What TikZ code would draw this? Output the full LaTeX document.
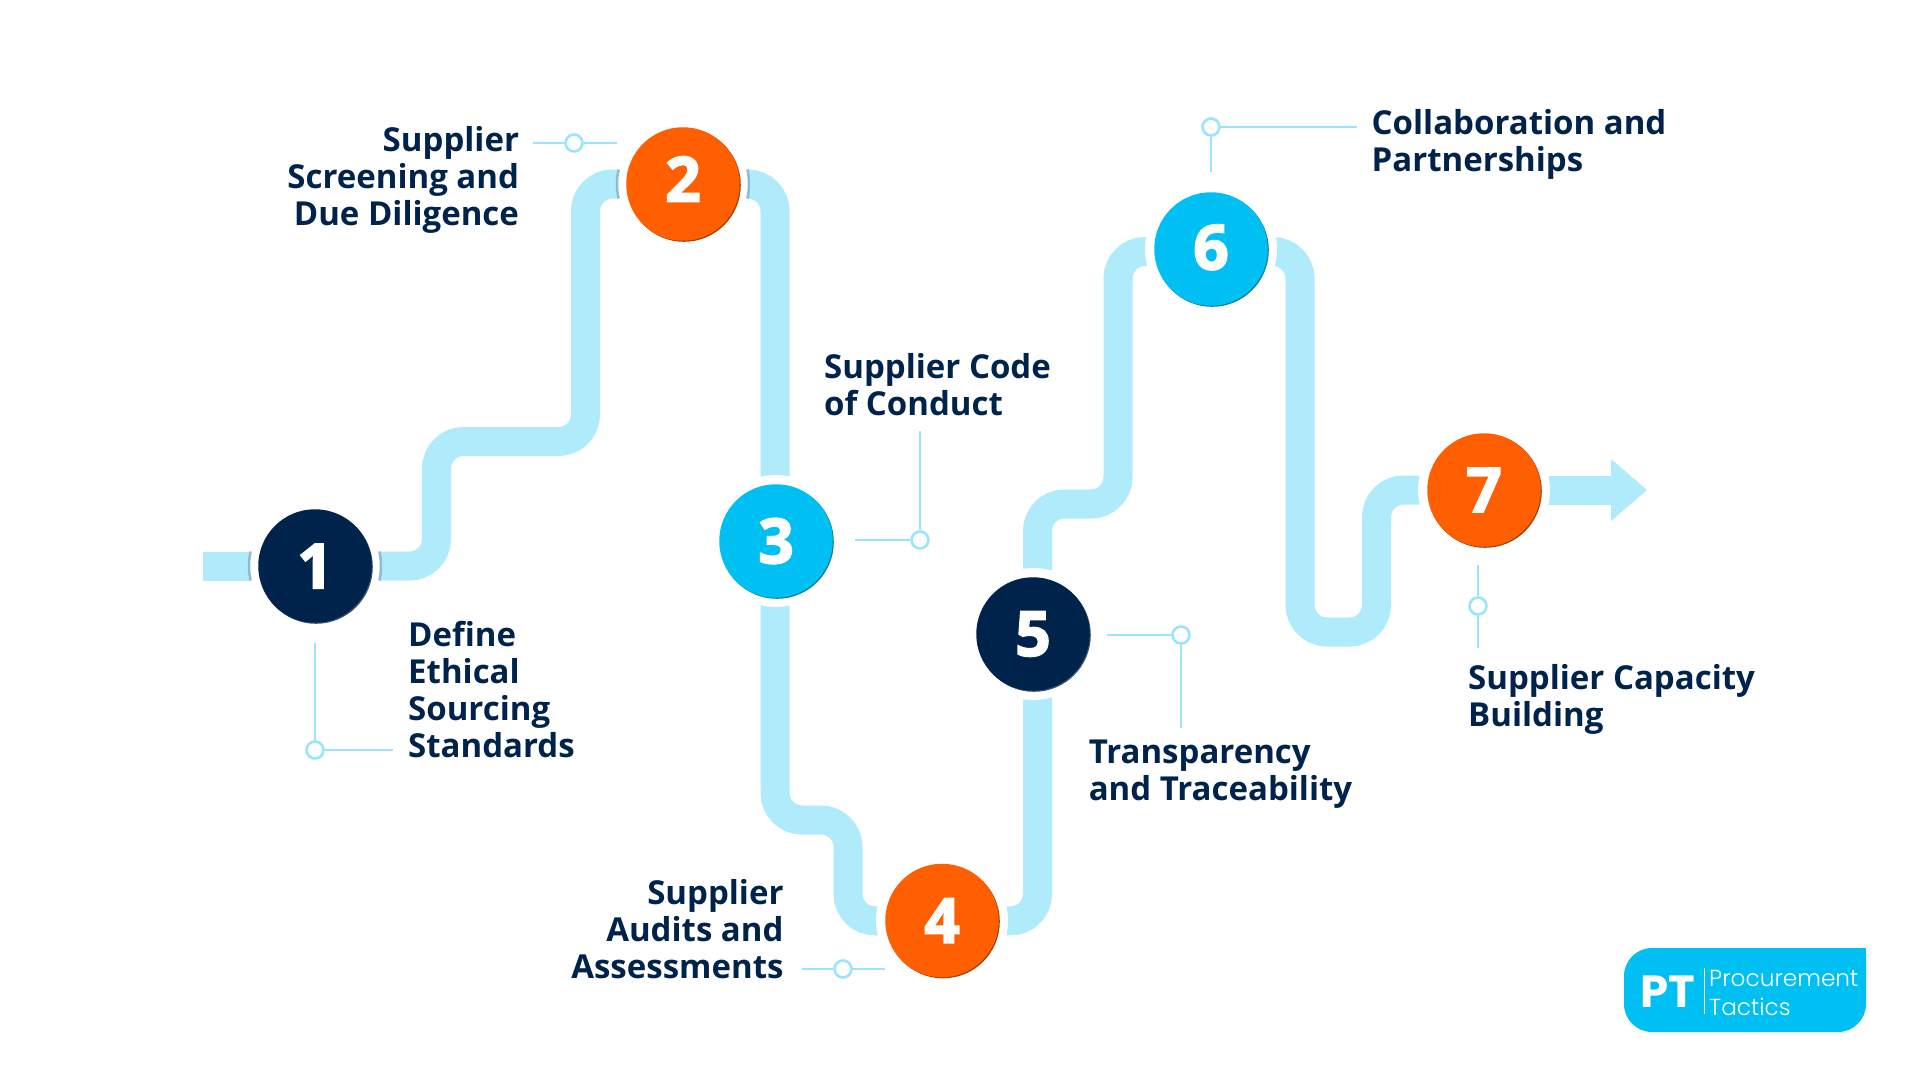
\documentclass[tikz,border=0pt]{standalone}
\usepackage{fontspec}
\setmainfont{Open Sans}
\newfontfamily\digitfont[BoldFeatures={FakeBold=2.8}]{Open Sans}
\newfontfamily\logobold{Poppins}
\newfontfamily\logolight[UprightFont={* Light}]{Poppins}
\usetikzlibrary{backgrounds}
\definecolor{pipecol}{HTML}{B0EBFB}
\definecolor{leadcol}{HTML}{9BE4FC}
\definecolor{navy}{HTML}{00234B}
\definecolor{orangec}{HTML}{FF5F00}
\definecolor{cyanc}{HTML}{00C0F3}
\definecolor{shorange}{HTML}{A5400A}
\definecolor{shcyan}{HTML}{0A7FA3}
\definecolor{shnavy}{HTML}{3A5470}
\definecolor{capcol}{HTML}{8FBDCB}
\tikzset{
  x=1pt,y=-1pt,
  stopnode/.style={circle,inner sep=0pt,minimum size=113.5pt,text=white,font=\digitfont\bfseries\fontsize{62}{62}\selectfont},
  pipe/.style={draw=pipecol,line width=29pt,rounded corners=27pt,line cap=butt},
  leader/.style={draw=leadcol,line width=2.6pt},
  ring/.style={circle,draw=leadcol,fill=white,line width=2.6pt,inner sep=0pt,minimum size=17pt},
  lab/.style={text=navy,inner sep=0pt,font=\bfseries\fontsize{33}{37}\selectfont},
  labl/.style={lab,anchor=north west,align=left},
  labr/.style={lab,anchor=north east,align=right},
  pipecap/.style={draw=capcol,line width=2.5pt}
}
\newcommand{\stopat}[6]{%
  \fill[white] (#2,#3) circle[radius=66];
  \fill[#5] (#2+1,#3+1) circle[radius=56.8];
  \node[stopnode,fill=#4] (#1) at (#2,#3) {#6};
}
\begin{document}
\begin{tikzpicture}
\useasboundingbox (0,0) rectangle (1920,1080);
\begin{pgfonlayer}{background}
\fill[white] (0,0) rectangle (1920,1080);
\end{pgfonlayer}
% stops
\stopat{n1}{315}{566}{navy}{shnavy}{1}
\stopat{n2}{683}{184}{orangec}{shorange}{\raisebox{10pt}{2}}
\stopat{n3}{776}{541}{cyanc}{shcyan}{3}
\stopat{n4}{942}{920.5}{orangec}{shorange}{4}
\stopat{n5}{1033}{634}{navy}{shnavy}{5}
\stopat{n6}{1211}{249}{cyanc}{shcyan}{\raisebox{4pt}{6}}
\stopat{n7}{1484}{490}{orangec}{shorange}{7}
% end caps beside stops 1 and 2
\draw[pipecap] (n1.center) ++(167.3:66) arc[start angle=167.3,end angle=192.7,radius=66];
\draw[pipecap] (n1.center) ++(-12.7:66) arc[start angle=-12.7,end angle=12.7,radius=66];
\draw[pipecap] (n2.center) ++(167.3:66) arc[start angle=167.3,end angle=192.7,radius=66];
\draw[pipecap] (n2.center) ++(-12.7:66) arc[start angle=-12.7,end angle=12.7,radius=66];
% bends
\coordinate (s0) at (203,566);
\coordinate (a1) at (436.5,566);
\coordinate (a2) at (436.5,441.5);
\coordinate (a3) at (585.5,441.5);
\coordinate (a4) at (585.5,184);
\coordinate (b1) at (775,184);
\coordinate (c1) at (775,820);
\coordinate (c2) at (848,820);
\coordinate (c3) at (848,921);
\coordinate (d1) at (1037.5,921);
\coordinate (e1) at (1037.5,504);
\coordinate (e2) at (1118,504);
\coordinate (e3) at (1118,251.5);
\coordinate (f1) at (1300,251.5);
\coordinate (f2) at (1300,632);
\coordinate (f3) at (1376.5,632);
\coordinate (f4) at (1376.5,490);
\coordinate (g1) at (1611,490);
\coordinate (g2) at (1611,459);
\coordinate (g3) at (1647,490);
\coordinate (g4) at (1611,521);
\begin{pgfonlayer}{background}
  \draw[pipe] (s0) -- (n1.center);
  \draw[pipe] (n1.center) -- (a1) -- (a2) -- (a3) -- (a4) -- (n2.center);
  \draw[pipe] (n2.center) -- (b1) -- (b1 |- n3.center);
  \draw[pipe] (b1 |- n3.center) -- (c1) -- (c2) -- (c3) -- (n4.center);
  \draw[pipe] (n4.center) -- (d1) -- (d1 |- n5.center);
  \draw[pipe] (d1 |- n5.center) -- (e1) -- (e2) -- (e3) -- (n6.center |- e3);
  \draw[pipe] (n6.center |- e3) -- (f1) -- (f2) -- (f3) -- (f4) -- (n7.center);
  \draw[pipe] (n7.center) -- (g1);
  \fill[pipecol] (g2) -- (g3) -- (g4) -- cycle;
\end{pgfonlayer}
% leaders
\node[ring] (r1) at (315,750) {};
\node[ring] (r2) at (574,143) {};
\node[ring] (r3) at (920,540) {};
\node[ring] (r4) at (843,969) {};
\node[ring] (r5) at (1181,635) {};
\node[ring] (r6) at (1211,127) {};
\node[ring] (r7) at (1478,606) {};
\coordinate (l1a) at (315,643); \coordinate (l1b) at (393,750);
\coordinate (l2a) at (533,143); \coordinate (l2b) at (617,143);
\coordinate (l3a) at (920,431); \coordinate (l3b) at (855,540);
\coordinate (l4a) at (802,969); \coordinate (l4b) at (885,969);
\coordinate (l5a) at (1107,635); \coordinate (l5b) at (1181,728);
\coordinate (l6a) at (1211,172); \coordinate (l6b) at (1357,127);
\coordinate (l7a) at (1478,565); \coordinate (l7b) at (1478,648);
\foreach \k in {1,...,7}{
  \begin{pgfonlayer}{background}
    \draw[leader] (l\k a) -- (r\k);
    \draw[leader] (r\k) -- (l\k b);
  \end{pgfonlayer}
}
% labels
\node[labl] (t1) at (408,620.7) {Define\\Ethical\\Sourcing\\Standards};
\node[labr] (t2) at (519.2,126) {Supplier\\Screening and\\Due Diligence};
\node[labl] (t3) at (824,353.2) {Supplier Code\\of Conduct};
\node[labr] (t4) at (783.7,879.2) {Supplier\\Audits and\\Assessments};
\node[labl] (t5) at (1088.6,739.4) {Transparency\\and Traceability};
\node[labl] (t6) at (1371.5,109.5) {Collaboration and\\Partnerships};
\node[labl] (t7) at (1468,664) {Supplier Capacity\\Building};
% logo
\fill[cyanc] (1866,948) -- (1866,1004) arc[start angle=0,end angle=90,radius=28] -- (1652,1032) arc[start angle=90,end angle=180,radius=28] -- (1624,976) arc[start angle=180,end angle=270,radius=28] -- cycle;
\node[text=white,inner sep=0pt,anchor=base west,font=\logobold\bfseries\fontsize{45}{45}\selectfont] (pt) at (1640,1007) {PT};
\draw[white,line width=0.8pt] (1704,968) -- (1704,1014);
\node[text=white,inner sep=0pt,anchor=base west,font=\logolight\fontsize{23.2}{24}\selectfont] (pr) at (1709,986) {Procurement};
\node[text=white,inner sep=0pt,anchor=base west,font=\logolight\fontsize{23.2}{24}\selectfont] (ta) at (1709,1015) {Tactics};
\end{tikzpicture}
\end{document}
